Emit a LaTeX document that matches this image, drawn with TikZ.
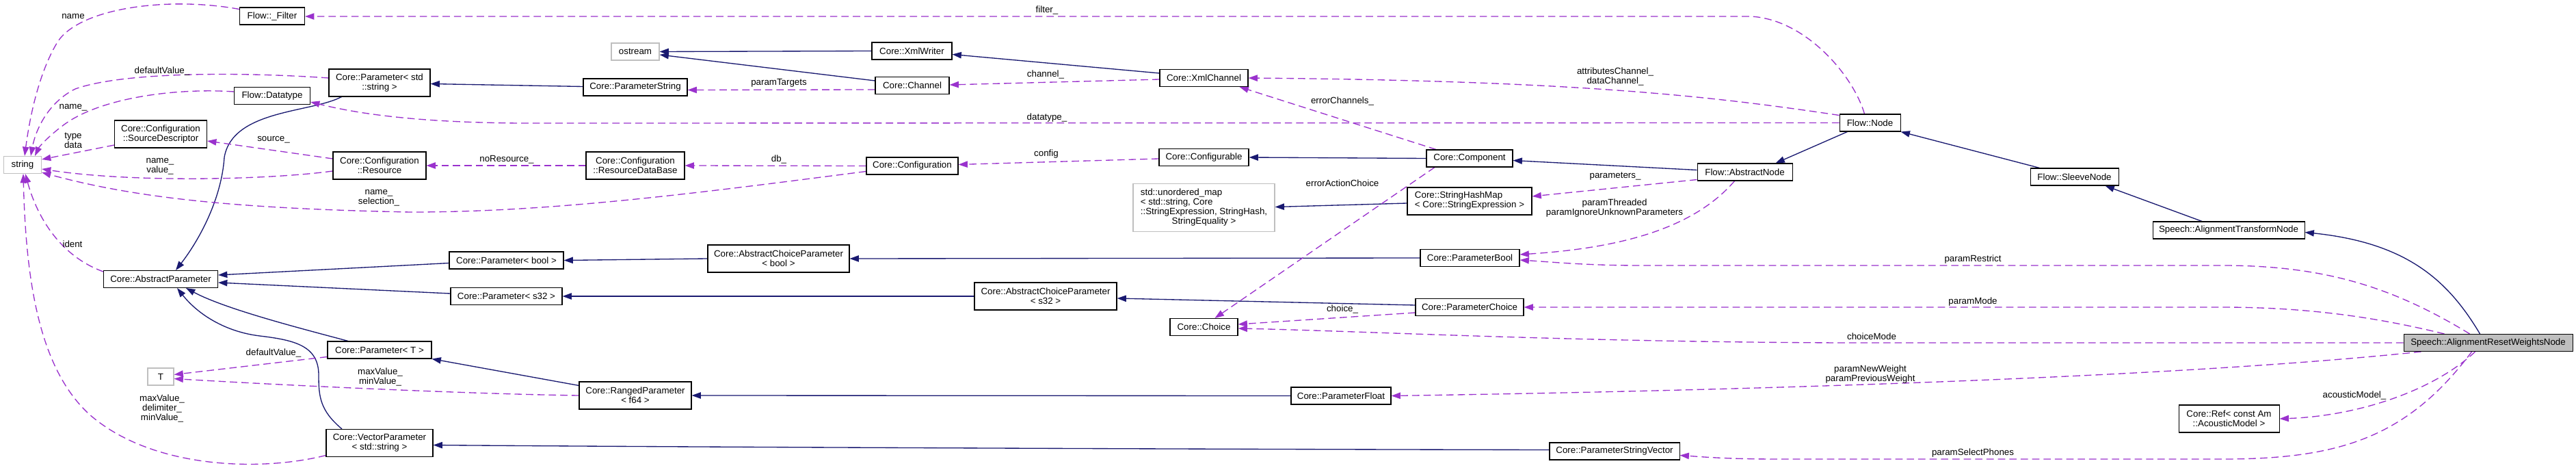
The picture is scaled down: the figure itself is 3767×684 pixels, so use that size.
\documentclass[tikz,border=0pt]{standalone}
\usepackage{fontspec}
\setmainfont{Liberation Sans}
\usetikzlibrary{arrows.meta,calc}
\definecolor{navy}{RGB}{25,25,112}
\definecolor{orch}{RGB}{154,50,205}
\definecolor{lgray}{RGB}{191,191,191}
\pgfdeclarelayer{bg}
\pgfsetlayers{bg,main}
\begin{document}
\begin{tikzpicture}[x=0.75pt,y=-0.75pt,
  txt/.style={font=\fontsize{10}{10.5}\selectfont},
  cls/.style={txt,draw=black,fill=white,line width=0.8pt,inner xsep=2pt,inner ysep=1pt,minimum height=18.75pt,align=center},
  ext/.style={cls,draw=lgray},
  mainnode/.style={cls,fill=lgray},
  w/.style={minimum width=#1*0.75pt},
  two/.style={minimum height=30pt},
  lab/.style={txt,align=center,inner sep=0pt},
  inh/.style={draw=navy,line width=1pt,-{Triangle[length=10pt,width=7pt]}},
  use/.style={draw=orch,line width=1pt,dash pattern=on 8pt off 4.5pt,-{Triangle[length=10pt,width=7pt]}}]
\useasboundingbox (0,0) rectangle (3767,684);

% nodes
\node[cls,w=95] (filter) at (398,23.5) {Flow::\_Filter};
\node[cls,w=148,two] (pss) at (555,121) {Core::Parameter< std\\::string >};
\node[cls,w=111] (datatype) at (398,140) {Flow::Datatype};
\node[cls,w=135,two] (srcdesc) at (235,196) {Core::Configuration\\::SourceDescriptor};
\node[ext,w=55] (string) at (33,241) {string};
\node[cls,w=136,two] (resource) at (555,242) {Core::Configuration\\::Resource};
\node[cls,w=167] (absparam) at (235,408) {Core::AbstractParameter};
\node[cls,w=152] (paramT) at (555,511.5) {Core::Parameter< T >};
\node[ext,w=38] (T) at (235,550.5) {T};
\node[cls,w=156,two] (vecparam) at (555,647.5) {Core::VectorParameter\\< std::string >};
\node[ext,w=70] (ostream) at (929,75.5) {ostream};
\node[cls,w=117] (xmlwriter) at (1333.5,74.5) {Core::XmlWriter};
\node[cls,w=152] (paramstring) at (929,127.5) {Core::ParameterString};
\node[cls,w=108] (channel) at (1334,125) {Core::Channel};
\node[cls,w=144,two] (resdb) at (929,242) {Core::Configuration\\::ResourceDataBase};
\node[cls,w=134] (config) at (1334,242.5) {Core::Configuration};
\node[cls,w=167] (parambase) at (740.5,380.5) {Core::Parameter< bool >};
\node[cls,w=163] (params32) at (740.5,433) {Core::Parameter< s32 >};
\node[cls,w=207,two] (acpbool) at (1138.5,378) {Core::AbstractChoiceParameter\\< bool >};
\node[cls,w=208,two] (acps32) at (1529,433) {Core::AbstractChoiceParameter\\< s32 >};
\node[cls,w=164,two] (ranged) at (929,578) {Core::RangedParameter\\< f64 >};
\node[cls,w=129] (xmlchannel) at (1760.5,114) {Core::XmlChannel};
\node[cls,w=131] (configurable) at (1760.5,230) {Core::Configurable};
\node[cls,w=126] (component) at (2149,231.5) {Core::Component};
\node[ext,w=207,minimum height=52.5pt] (umap) at (1760.5,303.5) {\begin{tabular}{@{}l@{}}std::unordered\_map\\< std::string, Core\\::StringExpression, StringHash,\\\multicolumn{1}{@{}c@{}}{StringEquality >}\end{tabular}};
\node[cls,w=182,two] (shm) at (2149,294) {\begin{tabular}{@{}l@{}}Core::StringHashMap\\< Core::StringExpression >\end{tabular}};
\node[cls,w=145] (parambool) at (2149.5,377) {Core::ParameterBool};
\node[cls,w=158] (paramchoice) at (2149,449) {Core::ParameterChoice};
\node[cls,w=99] (choice) at (1760.5,478) {Core::Choice};
\node[cls,w=146] (paramfloat) at (1961,578.5) {Core::ParameterFloat};
\node[cls,w=89] (node) at (2734.5,179.5) {Flow::Node};
\node[cls,w=139] (absnode) at (2551.5,251.5) {Flow::AbstractNode};
\node[cls,w=129] (sleeve) at (3033.5,258.5) {Flow::SleeveNode};
\node[cls,w=190] (psv) at (2361,659.5) {Core::ParameterStringVector};
\node[cls,w=222] (atn) at (3259,336.5) {Speech::AlignmentTransformNode};
\node[mainnode,w=247] (arwn) at (3638.5,501) {Speech::AlignmentResetWeightsNode};
\node[cls,w=147,two] (ref) at (3259.5,612) {Core::Ref< const Am\\::AcousticModel >};

% labels
\node[lab] (l1) at (107,24) {name};
\node[lab] (l2) at (1531,15) {filter\_};
\node[lab] (l3) at (237,104) {defaultValue\_};
\node[lab] (l4) at (107,157) {name\_};
\node[lab] (l5) at (107,205) {type\\data};
\node[lab] (l6) at (234,243) {name\_\\value\_};
\node[lab] (l7) at (554,289) {name\_\\selection\_};
\node[lab] (l8) at (400,204) {source\_};
\node[lab] (l9) at (741,233) {noResource\_};
\node[lab] (l10) at (1139,233) {db\_};
\node[lab] (l11) at (1530,225) {config};
\node[lab] (l12) at (1531,172) {datatype\_};
\node[lab] (l13) at (2362,112) {attributesChannel\_\\dataChannel\_};
\node[lab] (l14) at (1529,109) {channel\_};
\node[lab] (l15) at (1139,121) {paramTargets};
\node[lab] (l16) at (1963,148) {errorChannels\_};
\node[lab] (l17) at (1963,268) {errorActionChoice};
\node[lab] (l18) at (2362,258) {parameters\_};
\node[lab] (l19) at (2361,304) {paramThreaded\\paramIgnoreUnknownParameters};
\node[lab] (l20) at (2885,379) {paramRestrict};
\node[lab] (l21) at (2885,441) {paramMode};
\node[lab] (l22) at (2737,492) {choiceMode};
\node[lab] (l23) at (1963,452) {choice\_};
\node[lab] (l24) at (2735,547) {paramNewWeight\\paramPreviousWeight};
\node[lab] (l25) at (3443,578) {acousticModel\_};
\node[lab] (l26) at (2885,662) {paramSelectPhones};
\node[lab] (l27) at (556,551) {maxValue\_\\minValue\_};
\node[lab] (l28) at (400,516) {defaultValue\_};
\node[lab] (l29) at (237,597) {maxValue\_\\delimiter\_\\minValue\_};
\node[lab] (l30) at (106,357) {ident};

\begin{pgfonlayer}{bg}
% inheritance
\draw[inh] ($(pss.south west)+(19,0)$) .. controls (455,165) and (340,160) .. (328,230) .. controls (324,290) and (292,350) .. ($(absparam.north)+(22,0)$);
\draw[inh] ($(parambase.west)+(0,4)$) -- ($(absparam.east)+(0,-6)$);
\draw[inh] ($(params32.west)+(0,-4)$) -- ($(absparam.east)+(0,5)$);
\draw[inh] ($(paramT.north)+(-46,0)$) .. controls (440,480) and (330,452) .. ($(absparam.south)+(37,0)$);
\draw[inh] ($(vecparam.north)+(-55,0)$) .. controls (468,600) and (466,580) .. (466,548) .. controls (466,505) and (430,497) .. (380,491) .. controls (330,485) and (290,460) .. ($(absparam.south)+(24,0)$);
\draw[inh] ($(paramstring.west)+(0,-1)$) -- ($(pss.east)+(0,1.5)$);
\draw[inh] (xmlwriter.west) -- (ostream.east);
\draw[inh] ($(channel.west)+(0,-7)$) -- ($(ostream.east)+(0,4.5)$);
\draw[inh] ($(xmlchannel.west)+(0,-7)$) -- ($(xmlwriter.east)+(0,5)$);
\draw[inh] (component.west) -- (configurable.east);
\draw[inh] ($(absnode.west)+(0,-3)$) -- ($(component.east)+(0,3)$);
\draw[inh] ($(shm.west)+(0,3)$) -- ($(umap.east)+(0,-1)$);
\draw[inh] ($(node.south)+(-33,0)$) -- ($(absnode.north)+(45,0)$);
\draw[inh] ($(sleeve.north)+(-51,0)$) -- (node.south east);
\draw[inh] ($(atn.north)+(-39,0)$) -- ($(sleeve.south)+(45,0)$);
\draw[inh] ($(arwn.north)+(-12,0)$) .. controls (3580,410) and (3520,355) .. ($(atn.east)+(0,3)$);
\draw[inh] (acpbool.west) -- (parambase.east);
\draw[inh] (parambool.west) -- (acpbool.east);
\draw[inh] (acps32.west) -- (params32.east);
\draw[inh] ($(paramchoice.west)+(0,-3)$) -- ($(acps32.east)+(0,3)$);
\draw[inh] ($(ranged.north west)+(0,6)$) -- (paramT.south east);
\draw[inh] (paramfloat.west) -- (ranged.east);
\draw[inh] ($(psv.west)+(0,-2)$) .. controls (1500,656) and (800,652) .. ($(vecparam.east)+(0,3)$);

% usage
\draw[use] ($(filter.west)+(0,-10)$) .. controls (250,-5) and (120,10) .. (85,60) .. controls (60,100) and (45,160) .. ($(string.north)+(3,0)$);
\draw[use] ($(node.north)+(-8,0)$) .. controls (2710,110) and (2640,28) .. (2560,24) -- ($(filter.east)+(0,0.5)$);
\draw[use] ($(pss.west)+(0,-7)$) .. controls (350,105) and (180,105) .. (110,130) .. controls (70,150) and (52,190) .. ($(string.north)+(12,0)$);
\draw[use] ($(datatype.west)+(0,-6)$) .. controls (250,128) and (140,145) .. (90,185) .. controls (70,200) and (57,215) .. ($(string.north)+(18,0)$);
\draw[use] ($(srcdesc.west)+(0,16)$) -- ($(string.east)+(0,-8)$);
\draw[use] ($(resource.west)+(0,8)$) .. controls (400,262) and (200,268) .. ($(string.east)+(0,6)$);
\draw[use] ($(config.west)+(0,8)$) .. controls (1000,285) and (800,310) .. (600,310) .. controls (350,305) and (200,290) .. ($(string.east)+(0,11)$);
\draw[use] ($(resource.west)+(0,-10)$) -- ($(srcdesc.east)+(0,10)$);
\draw[use] (resdb.west) -- (resource.east);
\draw[use] (config.west) -- (resdb.east);
\draw[use] ($(configurable.west)+(0,2)$) -- ($(config.east)+(0,-2)$);
\draw[use] (node.west) -- (760,180) .. controls (620,179) and (530,168) .. ($(datatype.east)+(0,9)$);
\draw[use] ($(node.west)+(0,-11)$) .. controls (2500,140) and (2300,118) .. (xmlchannel.east);
\draw[use] ($(xmlchannel.west)+(0,2)$) -- ($(channel.east)+(0,-1)$);
\draw[use] ($(channel.west)+(0,6)$) -- ($(paramstring.east)+(0,4)$);
\draw[use] ($(component.north)+(-49,0)$) -- ($(xmlchannel.south east)+(-13,0)$);
\draw[use] ($(component.south)+(-51,0)$) -- ($(choice.north)+(16,0)$);
\draw[use] ($(absnode.south west)+(0,-2)$) -- ($(shm.east)+(0,-7)$);
\draw[use] ($(absnode.south)+(-15,0)$) .. controls (2480,330) and (2380,362) .. ($(parambool.east)+(0,-5)$);
\draw[use] ($(arwn.north)+(-27,0)$) .. controls (3500,420) and (3400,388) .. (3250,388) -- (2400,388) .. controls (2320,388) and (2270,383) .. ($(parambool.east)+(0,3)$);
\draw[use] ($(arwn.north west)+(60,0)$) .. controls (3480,465) and (3380,449) .. (3250,449) -- (paramchoice.east);
\draw[use] (arwn.west) -- (2700,501) .. controls (2300,500) and (2000,484) .. ($(choice.east)+(0,2)$);
\draw[use] ($(paramchoice.west)+(0,8)$) -- ($(choice.east)+(0,-4)$);
\draw[use] ($(arwn.south west)+(26,0)$) .. controls (3200,550) and (2600,570) .. (paramfloat.east);
\draw[use] ($(arwn.south)+(-19,0)$) .. controls (3560,570) and (3450,608) .. (ref.east);
\draw[use] ($(arwn.south)+(-24,0)$) .. controls (3520,640) and (3420,671) .. (3250,671) -- (2600,671) .. controls (2520,671) and (2480,667) .. ($(psv.east)+(0,6)$);
\draw[use] (ranged.west) .. controls (700,576) and (450,565) .. ($(T.east)+(0,3)$);
\draw[use] ($(paramT.west)+(0,10)$) -- ($(T.east)+(0,-3)$);
\draw[use] ($(vecparam.west)+(0,18)$) .. controls (380,690) and (220,685) .. (130,605) .. controls (60,540) and (38,420) .. ($(string.south)+(1,0)$);
\draw[use] ($(absparam.west)+(0,-11)$) .. controls (90,375) and (55,320) .. ($(string.south)+(4,0)$);
\end{pgfonlayer}
\end{tikzpicture}
\end{document}
